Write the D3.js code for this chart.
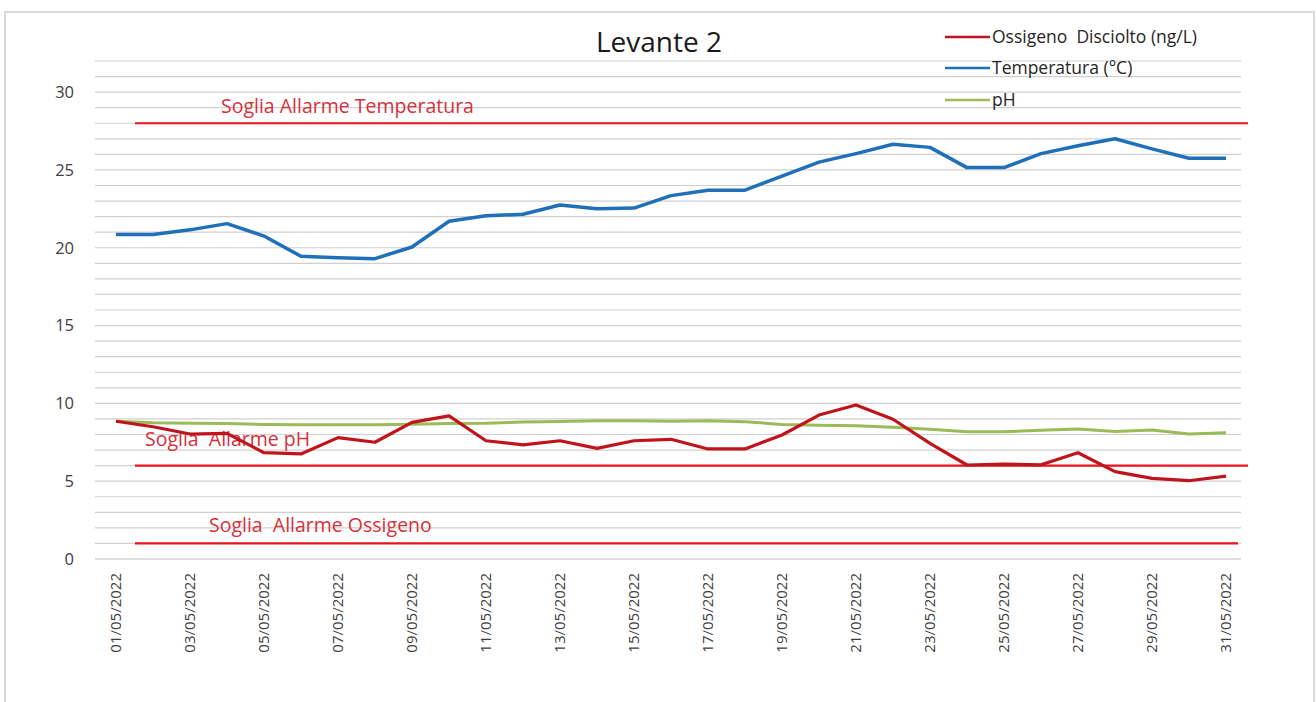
<!DOCTYPE html>
<html>
<head>
<meta charset="utf-8">
<script src="https://cdn.jsdelivr.net/npm/d3@7"></script>
<style>
  body { margin: 0; background: #fff; }
  text { font-family: "Open Sans", "Noto Sans", sans-serif; }
</style>
</head>
<body>
<div id="chart"></div>
<script>
// Days of May 2022
const dates = d3.range(1, 32).map(d => String(d).padStart(2, '0') + '/05/2022');

// Series values
const oxygen = [8.85, 8.5, 8.03, 8.07, 6.83, 6.75, 7.8, 7.5, 8.78, 9.2, 7.6, 7.33, 7.6, 7.11, 7.6, 7.69,
  7.07, 7.07, 7.97, 9.25, 9.9, 8.98, 7.43, 6.04, 6.1, 6.05, 6.83, 5.61, 5.18, 5.03, 5.33];
const temperature = [20.85, 20.85, 21.15, 21.55, 20.75, 19.45, 19.35, 19.3, 20.05, 21.7, 22.05, 22.15,
  22.75, 22.5, 22.55, 23.35, 23.7, 23.7, 24.6, 25.5, 26.05, 26.65, 26.45, 25.15, 25.15, 26.05, 26.55,
  27.0, 26.35, 25.75, 25.75];
const ph = [8.85, 8.75, 8.72, 8.7, 8.65, 8.63, 8.62, 8.62, 8.66, 8.7, 8.72, 8.8, 8.83, 8.88, 8.89, 8.85,
  8.88, 8.82, 8.65, 8.59, 8.57, 8.46, 8.33, 8.18, 8.18, 8.27, 8.35, 8.2, 8.29, 8.03, 8.12];

const seriesNames = ['Ossigeno  Disciolto (ng/L)', 'Temperatura (°C)', 'pH'];
const seriesColors = ['#c0141c', '#1f70b8', '#9bbb59'];

// Alarm thresholds
const thresholdNames = ['Soglia Allarme Temperatura', 'Soglia  Allarme pH', 'Soglia  Allarme Ossigeno'];
const thresholdValues = [28, 6, 1];

const yTicks = [0, 5, 10, 15, 20, 25, 30];

const width = 1316, height = 702;

const svg = d3.select('#chart')
  .append('svg')
  .attr('width', width)
  .attr('height', height);

// outer frame
svg.append('rect')
  .attr('x', 5).attr('y', 12)
  .attr('width', 1309).attr('height', 700)
  .attr('fill', 'none')
  .attr('stroke', '#d9d9d9')
  .attr('stroke-width', 2);

const x = d3.scaleBand().domain(dates).range([97.5, 1244.5]).padding(0);
const cx = d => x(d) + x.bandwidth() / 2;
const y = d3.scaleLinear().domain([0, 32]).range([559, 61]);

// gridlines every unit
svg.append('g')
  .selectAll('line')
  .data(d3.range(0, 33))
  .join('line')
  .attr('x1', 95).attr('x2', 1241)
  .attr('y1', d => y(d)).attr('y2', d => y(d))
  .attr('stroke', d => d === 0 ? '#bfbfbf' : '#d0d0d0')
  .attr('stroke-width', 1.2);

// y axis labels
const yAxis = d3.axisLeft(y).tickValues(yTicks).tickSize(0).tickPadding(0);
svg.append('g')
  .attr('transform', 'translate(74,0)')
  .call(yAxis)
  .call(g => g.select('.domain').remove())
  .selectAll('text')
  .attr('font-size', 16.5)
  .attr('fill', '#404040')
  .style('font-family', '"Open Sans", sans-serif');

// x axis labels (every other day)
svg.append('g')
  .selectAll('text')
  .data(dates.filter((d, i) => i % 2 === 0))
  .join('text')
  .attr('transform', d => `translate(${cx(d)},573) rotate(-90)`)
  .attr('text-anchor', 'end')
  .attr('dy', '0.35em')
  .attr('font-size', 15)
  .attr('fill', '#404040')
  .text(d => d);

// threshold lines
const thrStart = cx(dates[0]) + 19;
const thrEnds = [1248, 1248, 1238];
svg.append('g')
  .selectAll('line')
  .data(thresholdValues)
  .join('line')
  .attr('x1', thrStart)
  .attr('x2', (d, i) => thrEnds[i])
  .attr('y1', d => y(d)).attr('y2', d => y(d))
  .attr('stroke', '#e8131c')
  .attr('stroke-width', 2.2);

// threshold labels
const thrLabelPos = [[221, 113], [145, 446], [209, 532]];
svg.append('g')
  .selectAll('text')
  .data(thresholdNames)
  .join('text')
  .attr('x', (d, i) => thrLabelPos[i][0])
  .attr('y', (d, i) => thrLabelPos[i][1])
  .attr('font-size', 19.5)
  .attr('fill', '#d8303a')
  .style('white-space', 'pre')
  .text(d => d);

// series lines
const line = d3.line()
  .x((d, i) => cx(dates[i]))
  .y(d => y(d));

const seriesData = [oxygen, temperature, ph];
const seriesWidths = [3.2, 3.5, 3];
const drawOrder = [2, 1, 0];
drawOrder.forEach(i => {
  svg.append('path')
    .datum(seriesData[i])
    .attr('d', line)
    .attr('fill', 'none')
    .attr('stroke', seriesColors[i])
    .attr('stroke-width', seriesWidths[i])
    .attr('stroke-linejoin', 'round');
});

// title
svg.append('text')
  .attr('x', 659).attr('y', 52)
  .attr('text-anchor', 'middle')
  .attr('font-size', 28)
  .attr('fill', '#1a1a1a')
  .text('Levante 2');

// legend
const legend = svg.append('g')
  .selectAll('g')
  .data(seriesNames)
  .join('g')
  .attr('transform', (d, i) => `translate(945,${[37, 68, 100][i]})`);
legend.append('line')
  .attr('x1', 0).attr('x2', 45)
  .attr('stroke', (d, i) => seriesColors[i])
  .attr('stroke-width', 2.5);
legend.append('text')
  .attr('x', 47).attr('dy', '0.35em')
  .attr('font-size', 17.5)
  .attr('fill', '#262626')
  .style('white-space', 'pre')
  .text(d => d);
</script>
</body>
</html>
